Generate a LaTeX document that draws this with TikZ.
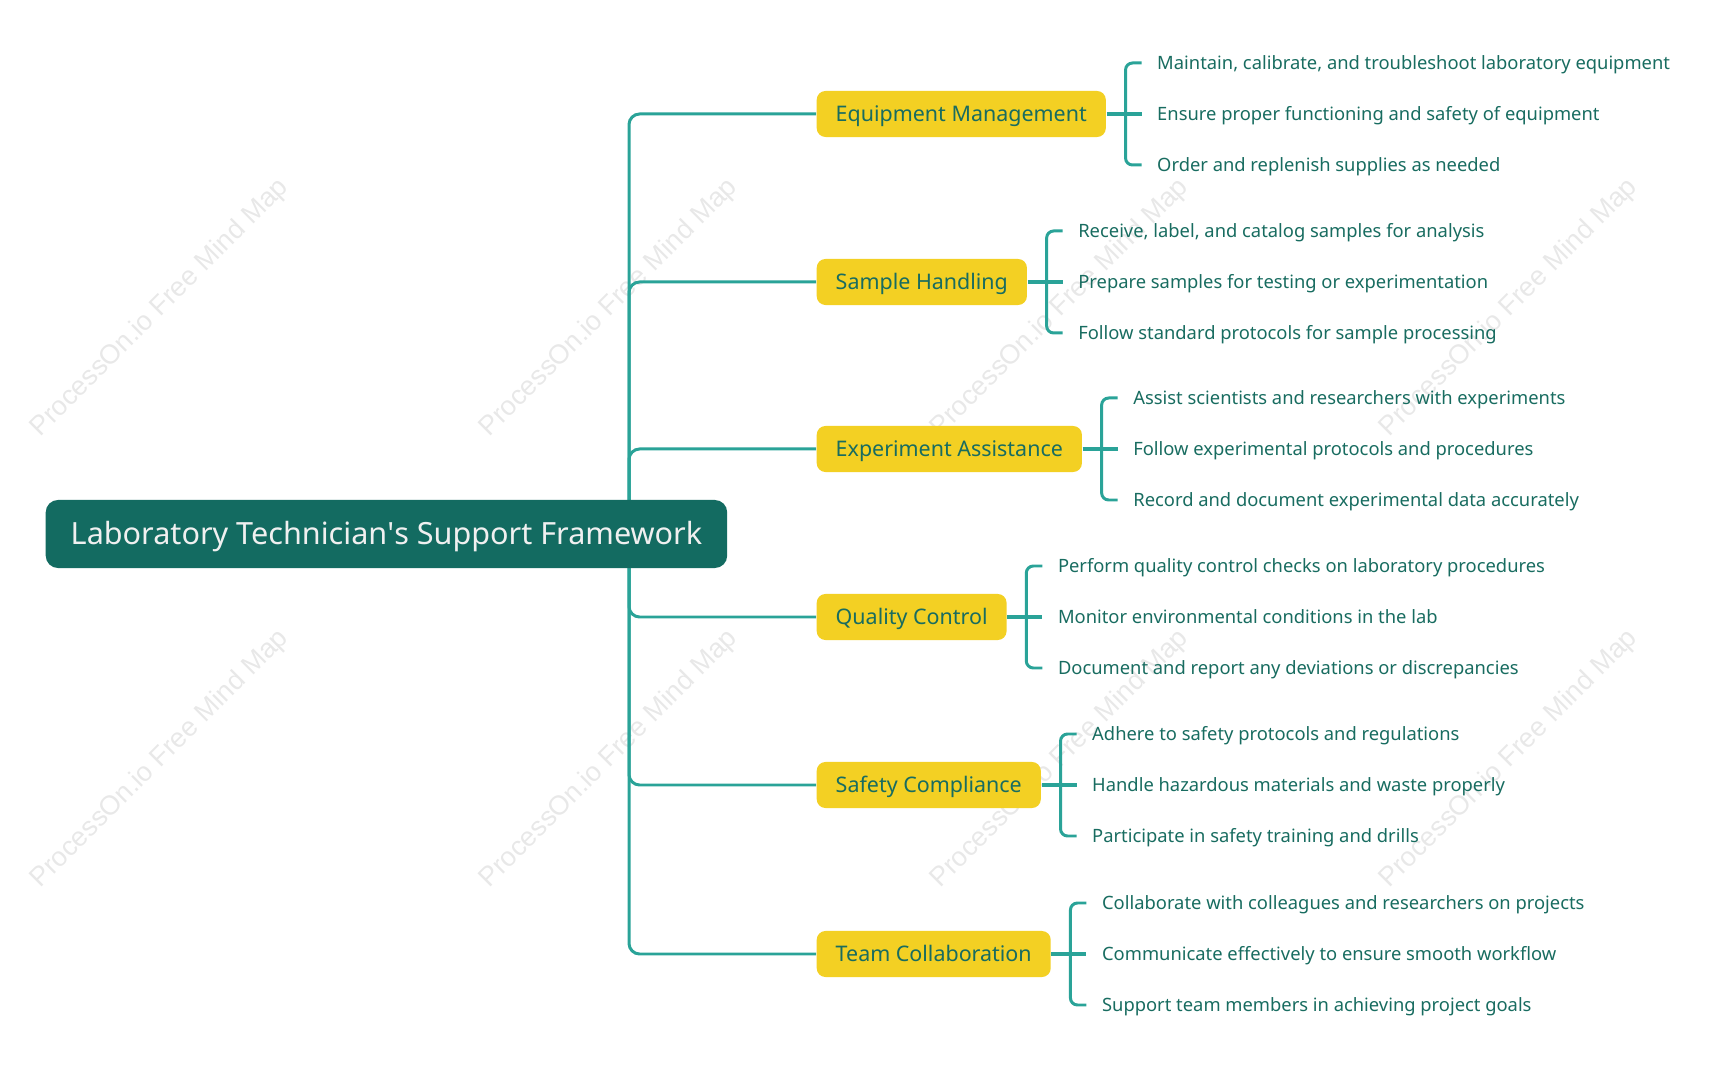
\documentclass[tikz,border=0pt]{standalone}
\usepackage{fontspec}
\setmainfont{Noto Sans}
\newfontfamily\wmfont{Liberation Sans}
\usetikzlibrary{calc}
\definecolor{tealdark}{RGB}{19,107,97}
\definecolor{tealline}{RGB}{42,163,152}
\definecolor{tealtext}{RGB}{24,108,96}
\definecolor{mapyellow}{RGB}{243,208,35}
\definecolor{wmgray}{RGB}{232,232,232}

\begin{document}
\begin{tikzpicture}[x=0.01cm, y=-0.01cm,
    root/.style={text height=8.4pt, text depth=2.2pt, fill=tealdark, text=white!94!black, rounded corners=3.5pt, anchor=west, inner xsep=0.25cm, inner ysep=1pt, minimum height=0.68cm, font=\fontsize{8.7pt}{10pt}\selectfont},
    branch/.style={text height=5.85pt, text depth=1.5pt, fill=mapyellow, text=tealtext, rounded corners=2.5pt, anchor=west, inner xsep=0.19cm, inner ysep=1pt, minimum height=0.46cm, font=\fontsize{6.1pt}{7.5pt}\selectfont},
    leaf/.style={text height=5pt, text depth=1.3pt, text=tealtext, anchor=west, inner sep=0pt, font=\fontsize{5.22pt}{6.5pt}\selectfont},
    link/.style={draw=tealline, line width=0.85pt, rounded corners=3pt},
    stem/.style={draw=tealline, line width=1.3pt},
    wmark/.style={text=wmgray, rotate=45, font=\wmfont\fontsize{7.7pt}{9pt}\selectfont}]
    \useasboundingbox (0,0) rectangle (1731,1083);
    \foreach \x in {160,609,1060,1509} \foreach \y in {308,759} \node[wmark] at (\x,\y) {ProcessOn.io Free Mind Map};

    \coordinate (hub) at (629,534);
    \foreach \n/\y/\t in {em/114/Equipment Management, sh/282/Sample Handling, ea/449/Experiment Assistance,
        qc/617/Quality Control, sc/785/Safety Compliance, tc/954/Team Collaboration} {
        \draw[link] (hub) |- (816,\y);
        \node[branch] (\n) at (816,\y) {\t};
    }
    \node[root] (R) at (45,534) {Laboratory Technician\textquotesingle s Support Framework};

    \foreach \n/\k/\t in {em/1/{Maintain, calibrate, and troubleshoot laboratory equipment}, em/2/Ensure proper functioning and safety of equipment, em/3/Order and replenish supplies as needed,
        sh/1/{Receive, label, and catalog samples for analysis}, sh/2/Prepare samples for testing or experimentation, sh/3/Follow standard protocols for sample processing,
        ea/1/Assist scientists and researchers with experiments, ea/2/Follow experimental protocols and procedures, ea/3/Record and document experimental data accurately,
        qc/1/Perform quality control checks on laboratory procedures, qc/2/Monitor environmental conditions in the lab, qc/3/Document and report any deviations or discrepancies,
        sc/1/Adhere to safety protocols and regulations, sc/2/Handle hazardous materials and waste properly, sc/3/Participate in safety training and drills,
        tc/1/Collaborate with colleagues and researchers on projects, tc/2/Communicate effectively to ensure smooth workflow, tc/3/Support team members in achieving project goals}
        \node[leaf] (\n\k) at ($(\n.east)+(50,{(\k-2)*51})$) {\t};

    \foreach \n in {em,sh,ea,qc,sc,tc} {
        \draw[stem] (\n.east) -- ($(\n2.west)+(-15,0)$);
        \draw[link, rounded corners=2pt] ($(\n1.west)+(-15,0)$) -| ($(\n.east)+(19,0)$) |- ($(\n3.west)+(-15,0)$);
    }
\end{tikzpicture}
\end{document}
